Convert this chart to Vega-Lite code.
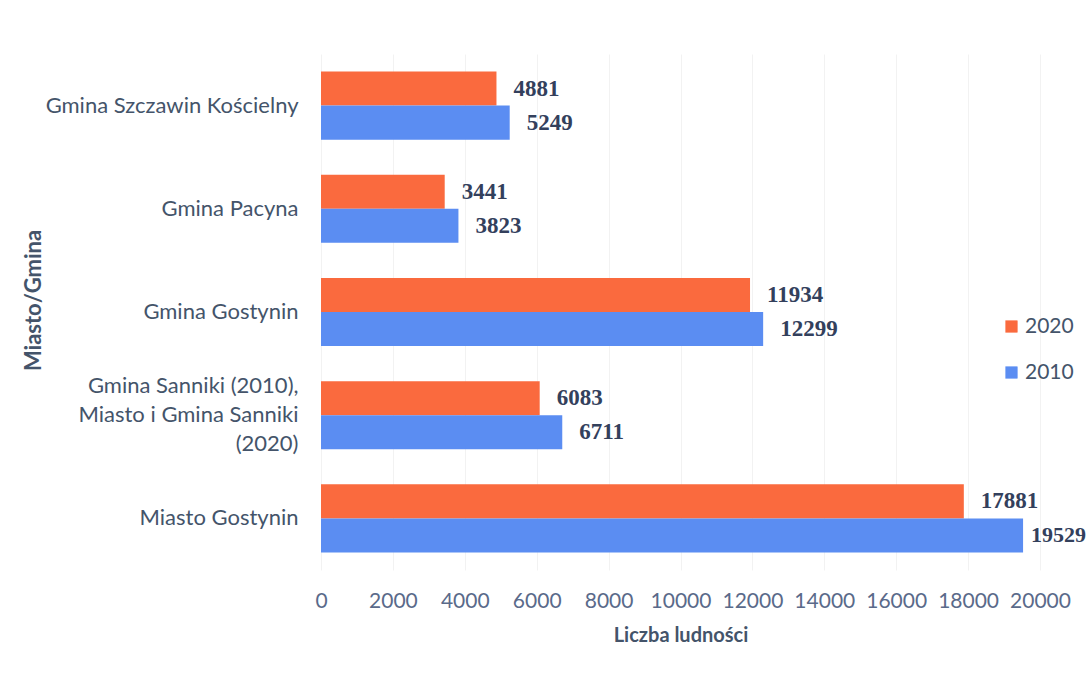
{
  "$schema": "https://vega.github.io/schema/vega-lite/v6.json",
  "width": 719,
  "height": 516,
  "autosize": "none",
  "padding": {"left": 321, "top": 54, "right": 46, "bottom": 109},
  "background": "white",
  "data": {
    "values": [
      {"gmina": "Gmina Szczawin Kościelny", "rok": "2020", "ludnosc": 4881},
      {"gmina": "Gmina Szczawin Kościelny", "rok": "2010", "ludnosc": 5249},
      {"gmina": "Gmina Pacyna", "rok": "2020", "ludnosc": 3441},
      {"gmina": "Gmina Pacyna", "rok": "2010", "ludnosc": 3823},
      {"gmina": "Gmina Gostynin", "rok": "2020", "ludnosc": 11934},
      {"gmina": "Gmina Gostynin", "rok": "2010", "ludnosc": 12299},
      {"gmina": "Gmina Sanniki (2010), Miasto i Gmina Sanniki (2020)", "rok": "2020", "ludnosc": 6083},
      {"gmina": "Gmina Sanniki (2010), Miasto i Gmina Sanniki (2020)", "rok": "2010", "ludnosc": 6711},
      {"gmina": "Miasto Gostynin", "rok": "2020", "ludnosc": 17881},
      {"gmina": "Miasto Gostynin", "rok": "2010", "ludnosc": 19529}
    ]
  },
  "encoding": {
    "y": {
      "field": "gmina",
      "type": "nominal",
      "sort": null,
      "scale": {"paddingInner": 0.34, "paddingOuter": 0.17},
      "axis": {
        "title": "Miasto/Gmina",
        "titleFont": "Lato",
        "titleFontSize": 22,
        "titleFontWeight": "bold",
        "titleColor": "#44546a",
        "titleX": -288,
        "titleY": 246,
        "titleAlign": "center",
        "titleBaseline": "middle",
        "titleAngle": 270,
        "labelFont": "Lato",
        "labelFontSize": 22,
        "labelColor": "#44546a",
        "labelPadding": 23,
        "labelLineHeight": 29,
        "labelLimit": 400,
        "labelOffset": {"condition": {"test": "datum.value == 'Gmina Sanniki (2010), Miasto i Gmina Sanniki (2020)'", "value": -29}, "value": 0},
        "labelExpr": "datum.value == 'Gmina Sanniki (2010), Miasto i Gmina Sanniki (2020)' ? ['Gmina Sanniki (2010),', 'Miasto i Gmina Sanniki', '(2020)'] : datum.label",
        "ticks": false,
        "domain": false,
        "grid": false
      }
    },
    "yOffset": {"field": "rok", "type": "nominal", "sort": ["2020", "2010"]},
    "x": {
      "field": "ludnosc",
      "type": "quantitative",
      "scale": {"domain": [0, 20000], "nice": false},
      "axis": {
        "title": "Liczba ludności",
        "titleFont": "Lato",
        "titleFontSize": 20,
        "titleFontWeight": "bold",
        "titleColor": "#44546a",
        "titlePadding": 14,
        "labelFont": "Lato",
        "labelFontSize": 21,
        "labelColor": "#5a6a8a",
        "labelPadding": 20,
        "labelOverlap": false,
        "labelBound": false,
        "labelFlush": false,
        "values": [0, 2000, 4000, 6000, 8000, 10000, 12000, 14000, 16000, 18000, 20000],
        "format": "d",
        "ticks": false,
        "domain": false,
        "grid": true,
        "gridColor": "#f2f2f2",
        "gridWidth": 1
      }
    }
  },
  "layer": [
    {
      "mark": {"type": "bar"},
      "encoding": {
        "color": {
          "field": "rok",
          "type": "nominal",
          "scale": {"domain": ["2020", "2010"], "range": ["#fa6a3e", "#5b8df2"]},
          "legend": {
            "title": null,
            "orient": "none",
            "legendX": 680,
            "legendY": 262,
            "symbolType": "square",
            "symbolSize": 150,
            "symbolStrokeWidth": 0,
            "labelFont": "Lato",
            "labelFontSize": 21,
            "labelColor": "#44546a",
            "rowPadding": 24,
            "labelOffset": 3
          }
        }
      }
    },
    {
      "transform": [{"filter": "datum.ludnosc < 19000"}],
      "mark": {
        "type": "text",
        "align": "left",
        "baseline": "middle",
        "dx": 17,
        "font": "Liberation Serif",
        "fontWeight": "bold",
        "fontSize": 23,
        "color": "#33405c"
      },
      "encoding": {
        "text": {"field": "ludnosc", "type": "quantitative", "format": "d"}
      }
    },
    {
      "transform": [{"filter": "datum.ludnosc >= 19000"}],
      "mark": {
        "type": "text",
        "align": "left",
        "baseline": "middle",
        "dx": 8,
        "font": "Liberation Serif",
        "fontWeight": "bold",
        "fontSize": 22,
        "color": "#33405c"
      },
      "encoding": {
        "text": {"field": "ludnosc", "type": "quantitative", "format": "d"}
      }
    }
  ],
  "config": {
    "view": {"stroke": null}
  }
}
